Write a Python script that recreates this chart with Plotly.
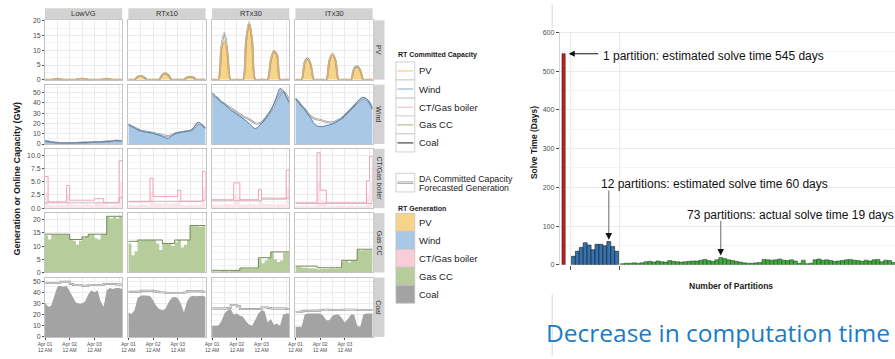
import plotly.graph_objects as go

# ---------------------------------------------------------------- data
HOURS = [0, 3, 6, 9, 12, 15, 18, 21, 24, 27, 30, 33, 36, 39, 42, 45,
         48, 51, 54, 57, 60, 63, 66, 69, 72, 75]
SCENARIOS = ["LowVG", "RTx10", "RTx30", "ITx30"]
TECHS = ["PV", "Wind", "CT/Gas boiler", "Gas CC", "Coal"]
DAY_TICKS = [0, 24, 48]
DAY_LABELS = ["Apr 01<br>12 AM", "Apr 02<br>12 AM", "Apr 03<br>12 AM"]
HALF_DAY_GRID = [12, 36, 60, 72]

PV_GEN = {
    "LowVG": [0, 0, 0, 0.2, 0.3, 0.2, 0, 0, 0, 0, 0, 0.3, 0.4, 0.3, 0, 0,
              0, 0, 0, 0.2, 0.3, 0.2, 0, 0, 0, 0],
    "RTx10": [0, 0, 0, 0.9, 1.3, 0.9, 0, 0, 0, 0, 0, 1.6, 2.2, 1.6, 0, 0,
              0, 0, 0, 0.7, 1.0, 0.8, 0, 0, 0, 0],
    "RTx30": [0, 0, 0, 10, 13, 8, 0, 0, 0, 0, 0, 13, 19, 13, 0, 0,
              0, 0, 0, 7, 10, 8.5, 0, 0, 0, 0],
    "ITx30": [0, 0, 0, 5.5, 7, 5, 0, 0, 0, 0, 0, 6.5, 8.5, 6.5, 0, 0,
              0, 0, 0, 3.5, 4.5, 3.5, 0, 0, 0, 0],
}
PV_DA = {
    "LowVG": [0, 0, 0, 0.2, 0.3, 0.2, 0, 0, 0, 0, 0, 0.3, 0.35, 0.3, 0, 0,
              0, 0, 0, 0.2, 0.3, 0.2, 0, 0, 0, 0],
    "RTx10": [0, 0, 0, 1.0, 1.3, 0.9, 0, 0, 0, 0, 0, 1.7, 2.2, 1.5, 0, 0,
              0, 0, 0, 0.8, 1.0, 0.8, 0, 0, 0, 0],
    "RTx30": [0, 0, 0, 11, 16, 9, 0, 0, 0, 0, 0, 13, 19.5, 13, 0, 0,
              0, 0, 0, 6.5, 9.5, 8.5, 0, 0, 0, 0],
    "ITx30": [0, 0, 0, 6, 7.2, 5, 0, 0, 0, 0, 0, 6.5, 8.8, 6.5, 0, 0,
              0, 0, 0, 3.8, 4.5, 3.2, 0, 0, 0, 0],
}
WIND_GEN = {
    "LowVG": [3, 2.5, 2, 1.5, 1.2, 1, 1, 1, 1, 1, 1.2, 1.2, 1.5, 1.5, 1.5, 1.8,
              2, 2, 2, 2.2, 2.5, 2.5, 3, 3.5, 3, 2.8],
    "RTx10": [19, 17.5, 16, 14, 13, 12, 11.5, 11, 10.5, 9.5, 8.5, 7.5, 6, 5.5, 8, 10,
              11, 11.5, 12, 12.5, 13, 15, 20, 21, 18, 15.5],
    "RTx30": [50, 47, 44, 41, 39, 36, 33, 31, 29, 27, 25, 22.5, 20, 17, 15, 17,
              20, 24, 28, 33, 39, 47, 54, 52, 46, 40],
    "ITx30": [44, 41, 37, 34, 29, 25, 20, 17.5, 17, 17, 18, 18.5, 19.5, 21, 23, 25,
              28, 31, 34, 37, 41, 44, 45.5, 44, 40, 34],
}
WIND_DA = {
    "LowVG": [3, 2.5, 2, 1.6, 1.3, 1.1, 1, 1, 1, 1, 1.1, 1.2, 1.4, 1.5, 1.6, 1.8,
              2, 2, 2.1, 2.2, 2.4, 2.6, 3, 3.3, 3, 2.8],
    "RTx10": [18.5, 17.5, 16, 14.5, 13, 12.5, 12, 11.5, 11, 10, 9.5, 8.5, 8, 7.5, 8.5, 10,
              11, 11.5, 12, 12.5, 13, 14.5, 18, 20, 18, 15.5],
    "RTx30": [48, 46, 44, 41, 39, 37, 35, 33, 31, 29, 27, 25.5, 24, 22, 20, 20,
              21, 24, 28, 32, 37, 43, 48, 51, 48, 42],
    "ITx30": [44, 41, 37, 34, 30, 27, 25, 24, 23.5, 22.5, 21.5, 21, 21, 22, 23.5, 25,
              28, 31, 34, 37, 40, 42.5, 44, 43, 40, 34],
}
CT_RTC = {
    "LowVG": [6, 1.2, 1.2, 1.2, 1.2, 1.2, 1.2, 4.3, 1.5, 1.5, 1.5, 1.5, 1.5, 1.5, 1.5, 1.5,
              1.8, 1.8, 1.8, 1.0, 1.0, 1.0, 1.0, 1.0, 9.0, 9.0],
    "RTx10": [1.2, 1.2, 1.2, 1.2, 1.2, 1.2, 1.2, 5.7, 2.2, 2.2, 2.2, 2.2, 2.2, 2.2, 2.2, 2.2,
              3.4, 1.3, 1.3, 1.3, 1.3, 1.3, 1.3, 1.3, 7.0, 1.5],
    "RTx30": [1.6, 1.6, 1.6, 1.6, 1.6, 1.6, 1.6, 4.8, 4.8, 1.6, 1.6, 1.6, 1.6, 1.6, 1.6, 3.5,
              1.7, 1.7, 1.7, 1.7, 1.7, 1.7, 1.7, 1.7, 7.2, 1.8],
    "ITx30": [1.0, 1.0, 1.0, 1.0, 1.0, 1.0, 1.0, 10.5, 3.4, 3.4, 1.0, 1.0, 1.0, 1.0, 1.0, 1.0,
              1.0, 1.0, 1.0, 1.0, 1.0, 1.0, 1.0, 5.2, 9.8, 1.2],
}
CT_DA = {
    "LowVG": [1.0, 1.0, 1.0, 1.0, 1.0, 1.0, 1.0, 1.0, 1.0, 1.0, 1.0, 1.0, 1.0, 1.0, 1.0, 1.0,
              1.0, 1.0, 1.0, 1.0, 1.0, 1.0, 1.0, 1.0, 2.0, 2.0],
    "RTx10": [1.3, 1.3, 1.3, 1.3, 1.3, 1.3, 1.3, 1.3, 1.3, 1.3, 1.3, 1.3, 1.3, 1.3, 1.3, 1.3,
              1.3, 1.3, 1.3, 1.3, 1.3, 1.3, 1.3, 1.3, 1.5, 1.5],
    "RTx30": [1.4, 1.4, 1.4, 1.4, 1.4, 1.4, 1.4, 1.4, 1.4, 1.4, 1.4, 1.4, 1.4, 1.4, 1.4, 1.4,
              1.9, 1.9, 1.9, 1.9, 1.9, 1.9, 1.9, 1.9, 1.9, 1.9],
    "ITx30": [0.9, 0.9, 0.9, 0.9, 0.9, 0.9, 0.9, 0.9, 0.9, 0.9, 0.9, 0.9, 0.9, 0.9, 0.9, 0.9,
              0.9, 0.9, 0.9, 0.9, 0.9, 0.9, 0.9, 0.9, 0.9, 0.9],
}
CT_GEN = {
    "LowVG": [3.0, 0.6, 0.5, 0.5, 0.6, 0.7, 0.6, 2.5, 0.8, 0.7, 0.6, 0.6, 0.7, 0.8, 0.7, 0.6,
              0.9, 1.0, 0.9, 0.6, 0.5, 0.5, 0.6, 0.7, 5.0, 3.0],
    "RTx10": [0.6, 0.5, 0.5, 0.6, 0.7, 0.6, 0.5, 3.0, 1.0, 0.9, 0.8, 0.9, 1.0, 0.8, 0.9, 1.0,
              1.5, 0.6, 0.5, 0.6, 0.6, 0.5, 0.6, 0.7, 4.0, 0.8],
    "RTx30": [0.7, 0.6, 0.6, 0.7, 0.8, 0.7, 0.6, 2.5, 2.0, 0.7, 0.6, 0.7, 0.8, 0.7, 0.6, 1.5,
              0.8, 0.7, 0.8, 0.8, 0.7, 0.8, 0.8, 0.7, 4.0, 0.9],
    "ITx30": [0.4, 0.4, 0.5, 0.5, 0.4, 0.4, 0.5, 5.0, 1.5, 1.2, 0.5, 0.4, 0.4, 0.5, 0.5, 0.4,
              0.4, 0.5, 0.5, 0.4, 0.4, 0.5, 0.5, 2.5, 5.0, 0.6],
}
GAS_GEN = {
    "LowVG": [14, 12.5, 14.3, 14.3, 14.3, 14.3, 14.3, 14.3, 12.5, 12, 10.5, 12, 13.2, 13.5, 14.5, 14.5,
              13, 12.5, 14.5, 14.5, 21, 20.5, 21, 20.5, 21, 21],
    "RTx10": [11, 6.5, 8, 12, 12.2, 12.2, 12.2, 12.2, 12.2, 11, 8.5, 11, 11, 11, 10, 11.5,
              12.3, 9.5, 10.5, 12.3, 17.5, 17.5, 17.5, 17.2, 17.5, 17.3],
    "RTx30": [0.5, 0.5, 0.5, 0.6, 0.6, 0.5, 0.6, 0.7, 0.7, 1.5, 1.5, 1.5, 1.4, 1.5, 1.5, 5.2,
              3.5, 4.5, 5.5, 7.7, 5, 4, 4.5, 7.5, 7.7, 7.5],
    "ITx30": [2.2, 2.2, 1.8, 1.8, 1.6, 1.6, 1.5, 1.2, 1.3, 1.4, 1.3, 1.5, 1.4, 1.5, 1.5, 4.2,
              4.4, 3.8, 4.4, 4.4, 8.5, 8.3, 8.5, 8.4, 8.5, 8.5],
}
GAS_RTC = {
    "LowVG": [14.5, 14.5, 14.5, 14.5, 14.5, 14.5, 14.5, 14.5, 12.5, 12.5, 12.5, 12.5, 13.5, 13.5, 14.5, 14.5,
              14.5, 14.5, 14.5, 14.5, 21.3, 21.3, 21.3, 21.3, 21.3, 21.3],
    "RTx10": [11.8, 11.8, 11.8, 12.3, 12.3, 12.3, 12.3, 12.3, 12.3, 12.3, 12.3, 11, 11, 11, 11, 12.3,
              12.3, 12.3, 12.3, 12.3, 17.8, 17.8, 17.8, 17.8, 17.8, 17.8],
    "RTx30": [0.8, 0.8, 0.8, 0.8, 0.8, 0.8, 0.8, 0.8, 0.8, 1.7, 1.7, 1.7, 1.7, 1.7, 1.7, 5.6,
              5.6, 5.6, 5.6, 7.8, 7.8, 7.8, 7.8, 7.8, 7.8, 7.8],
    "ITx30": [2.4, 2.4, 2.4, 2.4, 2.4, 2.4, 2.4, 1.8, 1.8, 1.8, 1.8, 1.8, 1.8, 1.8, 1.8, 4.6,
              4.6, 4.6, 4.6, 4.6, 8.8, 8.8, 8.8, 8.8, 8.8, 8.8],
}
COAL_GEN = {
    "LowVG": [31, 27, 28, 36, 45, 46, 45, 46, 41, 35, 31, 30, 30, 32, 38, 42,
              40, 42, 32, 27, 42, 44, 43, 44, 44, 43],
    "RTx10": [22, 20.5, 24, 35, 37, 37.5, 37, 37, 33, 28, 25, 24, 25, 31, 35, 36,
              35, 30, 22, 32, 36, 37, 36.5, 37, 37, 36],
    "RTx30": [10, 10, 10, 14, 21, 24, 25, 20, 21, 19, 18, 14, 11, 10, 16, 21,
              24, 23, 13, 16, 11, 12, 10, 20, 21, 21],
    "ITx30": [9, 9, 9, 20, 21, 21, 21, 21, 21, 19, 15, 15, 19, 20, 20, 17,
              13, 16, 20, 20, 10, 9, 20, 21, 21, 21],
}
COAL_DA = {
    "LowVG": [48.5, 48.5, 48.5, 48.5, 48.5, 49.5, 49.5, 49.5, 47.5, 46.5, 46.5, 46.5, 46, 46, 46.5, 46.5,
              46.5, 46.5, 46.5, 47.5, 47.5, 47.5, 47.5, 47, 47, 47],
    "RTx10": [40.5, 40.5, 40.5, 40.5, 41.5, 41.5, 41.5, 41.5, 41, 40.5, 40, 40, 39.5, 39.5, 39.5, 39.5,
              39.5, 39.5, 40, 41, 41, 41, 41, 41, 40.5, 40.5],
    "RTx30": [25.5, 25.5, 25.5, 25.5, 25.5, 26, 28.5, 28.5, 27.5, 25, 25, 25, 25, 25, 25, 25,
              26.5, 26.5, 26, 25.5, 25.5, 25.5, 25.5, 25.5, 25, 25],
    "ITx30": [22.5, 22.5, 23, 23.5, 23.5, 23.5, 23.5, 23.5, 24, 24.5, 24.5, 24, 24, 24, 24, 24.5,
              24.5, 24.5, 24.5, 24.5, 24, 24, 24, 24, 24, 24],
}

# solve time per partition run (days)
ONE_PARTITION_DAYS = [545]
TWELVE_PARTITION_DAYS = [22, 35, 45, 57, 51, 39, 53, 53, 49, 60, 47, 35]
SEVENTY_THREE_PARTITION_DAYS = [
    3, 4, 4, 5, 4, 5, 8, 9, 7, 10, 8, 7, 11, 9, 8, 7, 8, 9, 10, 10, 12, 14, 11, 9, 13,
    19, 16, 13, 11, 9, 7, 5, 4, 4, 5, 6, 14, 13, 12, 13, 15, 12, 11, 13, 10, 4, 12, 3,
    4, 13, 15, 12, 13, 11, 9, 10, 11, 13, 14, 12, 11, 9, 12, 10, 13, 14, 8, 12, 11, 6,
    5, 4, 3]
Y_SOLVE_TICKS = [0, 100, 200, 300, 400, 500, 600]

# ---------------------------------------------------------------- styling
W, H = 895, 359
FONT = "Liberation Sans, Arial, sans-serif"
GRID = "#EBEBEB"
GRID_MINOR = "#F4F4F4"
BORDER = "#C4C4C4"
STRIP = "#D2D2D2"
TICK_COLOR = "#4D4D4D"

PV_FILL, PV_LINE = "#F8D48A", "#E9A536"
WIND_FILL, WIND_LINE = "#A8C8E6", "#4C7DB6"
CT_FILL, CT_LINE, CT_DA_LINE = "#FCE6EA", "#F2A2B4", "#C7A3AC"
GAS_FILL, GAS_LINE = "#B6CC9A", "#6F8750"
COAL_FILL = "#A3A3A3"
DA_OUTER = "#8A8A8A"

COL_LEFT = [38.3, 122.3, 206.7, 290.7]
PANEL_W = 77.8
ROW_TOP = [16.7, 82.3, 147.7, 213.3, 279.0]
PANEL_H = 60.5

Y_SPEC = [
    dict(top=20.2, ticks=[0, 5, 10, 15, 20], labels=["0", "5", "10", "15", "20"],
         minor=[2.5, 7.5, 12.5, 17.5]),
    dict(top=57.7, ticks=[0, 10, 20, 30, 40, 50], labels=["0", "10", "20", "30", "40", "50"],
         minor=[5, 15, 25, 35, 45, 55]),
    dict(top=11.25, ticks=[0, 2.5, 5, 7.5, 10], labels=["0.0", "2.5", "5.0", "7.5", "10.0"],
         minor=[1.25, 3.75, 6.25, 8.75]),
    dict(top=22.5, ticks=[0, 5, 10, 15, 20], labels=["0", "5", "10", "15", "20"],
         minor=[2.5, 7.5, 12.5, 17.5]),
    dict(top=53.3, ticks=[0, 10, 20, 30, 40, 50], labels=["0", "10", "20", "30", "40", "50"],
         minor=[5, 15, 25, 35, 45]),
]


def fx(px):
    return px / W


def fy(py):
    return 1 - py / H


def ids(k):
    return ("x" if k == 1 else f"x{k}", "y" if k == 1 else f"y{k}")


def keys(k):
    return ("xaxis" if k == 1 else f"xaxis{k}", "yaxis" if k == 1 else f"yaxis{k}")


fig = go.Figure()
shapes, annotations = [], []
layout = dict(width=W, height=H, margin=dict(l=0, r=0, t=0, b=0),
              paper_bgcolor="white", plot_bgcolor="white", showlegend=False,
              hovermode=False, font=dict(family=FONT, color="#1A1A1A"))


def text_at(text, px, py, size, color="#1A1A1A", xanchor="center", angle=0,
            family=FONT):
    annotations.append(dict(text=text, xref="paper", yref="paper", x=fx(px), y=fy(py),
                            xanchor=xanchor, yanchor="middle", showarrow=False,
                            textangle=angle,
                            font=dict(size=size, color=color, family=family)))


def area(k, y, fill, shape):
    xid, yid = ids(k)
    fig.add_trace(go.Scatter(x=HOURS, y=y, xaxis=xid, yaxis=yid, mode="lines",
                             fill="tozeroy", fillcolor=fill,
                             line=dict(width=0, shape=shape, smoothing=0.9,
                                       color=fill)))


def line(k, y, color, width, shape):
    xid, yid = ids(k)
    fig.add_trace(go.Scatter(x=HOURS, y=y, xaxis=xid, yaxis=yid, mode="lines",
                             line=dict(color=color, width=width, shape=shape,
                                       smoothing=0.9)))


def da_line(k, y, shape):
    line(k, y, DA_OUTER, 1.9, shape)
    line(k, y, "white", 0.7, shape)


# ---------------------------------------------------------------- facet grid
for r, tech in enumerate(TECHS):
    for c, sc in enumerate(SCENARIOS):
        k = r * 4 + c + 1
        xid, yid = ids(k)
        xkey, ykey = keys(k)
        x0, y0 = COL_LEFT[c], ROW_TOP[r]
        bottom = r == len(TECHS) - 1
        left = c == 0
        spec = Y_SPEC[r]
        layout[xkey] = dict(
            domain=[fx(x0), fx(x0 + PANEL_W)], anchor=yid, range=[0, 75],
            tickmode="array", tickvals=DAY_TICKS, ticktext=DAY_LABELS,
            showticklabels=bottom, ticks="outside" if bottom else "",
            ticklen=2, tickwidth=0.7, tickcolor=TICK_COLOR,
            tickfont=dict(size=5, color=TICK_COLOR),
            showgrid=True, gridcolor=GRID, gridwidth=0.7,
            minor=dict(tickmode="array", tickvals=HALF_DAY_GRID, showgrid=True,
                       gridcolor=GRID, gridwidth=0.5, ticks=""),
            showline=True, mirror=True, linecolor=BORDER, linewidth=0.8,
            zeroline=False, fixedrange=True)
        layout[ykey] = dict(
            domain=[fy(y0 + PANEL_H), fy(y0)], anchor=xid, range=[0, spec["top"]],
            tickmode="array", tickvals=spec["ticks"], ticktext=spec["labels"],
            showticklabels=left, ticks="outside" if left else "",
            ticklen=2, tickwidth=0.7, tickcolor=TICK_COLOR,
            tickfont=dict(size=7, color=TICK_COLOR),
            showgrid=True, gridcolor=GRID, gridwidth=0.7,
            minor=dict(tickmode="array", tickvals=spec["minor"], showgrid=True,
                       gridcolor=GRID_MINOR, gridwidth=0.5, ticks=""),
            showline=True, mirror=True, linecolor=BORDER, linewidth=0.8,
            zeroline=False, fixedrange=True)

        if tech == "PV":
            area(k, PV_GEN[sc], PV_FILL, "spline")
            da_line(k, PV_DA[sc], "spline")
            line(k, PV_GEN[sc], PV_LINE, 0.9, "spline")
        elif tech == "Wind":
            area(k, WIND_GEN[sc], WIND_FILL, "spline")
            da_line(k, WIND_DA[sc], "spline")
            line(k, WIND_GEN[sc], WIND_LINE, 1.0, "spline")
        elif tech == "CT/Gas boiler":
            area(k, CT_GEN[sc], CT_FILL, "hv")
            line(k, CT_DA[sc], CT_DA_LINE, 0.8, "hv")
            line(k, CT_RTC[sc], CT_LINE, 1.0, "hv")
        elif tech == "Gas CC":
            area(k, GAS_GEN[sc], GAS_FILL, "hv")
            line(k, GAS_RTC[sc], GAS_LINE, 1.0, "hv")
        else:
            area(k, COAL_GEN[sc], COAL_FILL, "linear")
            da_line(k, COAL_DA[sc], "hv")

# column strips
for c, sc in enumerate(SCENARIOS):
    x0 = COL_LEFT[c]
    shapes.append(dict(type="rect", xref="paper", yref="paper",
                       x0=fx(x0), x1=fx(x0 + PANEL_W), y0=fy(15.7), y1=fy(4.3),
                       fillcolor=STRIP, line=dict(width=0)))
    text_at(sc, x0 + PANEL_W / 2, 10, 7.5, color="#333333")
# row strips
for r, tech in enumerate(TECHS):
    y0 = ROW_TOP[r]
    shapes.append(dict(type="rect", xref="paper", yref="paper",
                       x0=fx(369.3), x1=fx(380.5), y0=fy(y0 + PANEL_H), y1=fy(y0),
                       fillcolor=STRIP, line=dict(width=0)))
    text_at(tech, 375, y0 + PANEL_H / 2, 7, color="#333333", angle=90)

text_at("<b>Generation or Online Capacity (GW)</b>", 10, 178, 9, angle=-90)

# ---------------------------------------------------------------- legend
KEY_X0, KEY_X1, LABEL_X = 392, 411, 413.5
RTC_KEY_COLORS = ["#F3C35A", "#7FA7D3", "#F6B9C5", "#A8B47A", "#222222"]
GEN_KEY_COLORS = [PV_FILL, WIND_FILL, "#F9CDD6", GAS_FILL, COAL_FILL]
RTC_ROWS = [68.3, 86.7, 105.3, 123.3, 141.7]
GEN_ROWS = [222.7, 241.0, 259.3, 277.7, 296.0]
KEY_H = 18.4

text_at("<b>RT Committed Capacity</b>", KEY_X0, 52.3, 7, xanchor="left")
for name, col, yc in zip(TECHS, RTC_KEY_COLORS, RTC_ROWS):
    shapes.append(dict(type="rect", xref="paper", yref="paper",
                       x0=fx(KEY_X0), x1=fx(KEY_X1), y0=fy(yc + KEY_H / 2),
                       y1=fy(yc - KEY_H / 2), fillcolor="white",
                       line=dict(color=BORDER, width=0.8)))
    shapes.append(dict(type="line", xref="paper", yref="paper",
                       x0=fx(KEY_X0 + 1.5), x1=fx(KEY_X1 - 1.5), y0=fy(yc), y1=fy(yc),
                       line=dict(color=col, width=1.0)))
    text_at(name, LABEL_X, yc, 9.5, xanchor="left")

shapes.append(dict(type="rect", xref="paper", yref="paper",
                   x0=fx(KEY_X0), x1=fx(KEY_X1), y0=fy(191.7), y1=fy(172.7),
                   fillcolor="white", line=dict(color=BORDER, width=0.8)))
shapes.append(dict(type="line", xref="paper", yref="paper",
                   x0=fx(KEY_X0 + 1.5), x1=fx(KEY_X1 - 1.5), y0=fy(182.2), y1=fy(182.2),
                   line=dict(color=DA_OUTER, width=2.2)))
shapes.append(dict(type="line", xref="paper", yref="paper",
                   x0=fx(KEY_X0 + 1.5), x1=fx(KEY_X1 - 1.5), y0=fy(182.2), y1=fy(182.2),
                   line=dict(color="white", width=0.8)))
text_at("DA Committed Capacity", LABEL_X, 178.0, 8.8, xanchor="left")
text_at("Forecasted Generation", LABEL_X, 188.0, 8.8, xanchor="left")

text_at("<b>RT Generation</b>", KEY_X0, 208.3, 7, xanchor="left")
for name, col, yc in zip(TECHS, GEN_KEY_COLORS, GEN_ROWS):
    shapes.append(dict(type="rect", xref="paper", yref="paper",
                       x0=fx(KEY_X0), x1=fx(KEY_X1), y0=fy(yc + KEY_H / 2),
                       y1=fy(yc - KEY_H / 2), fillcolor=col,
                       line=dict(color=BORDER, width=0.8)))
    text_at(name, LABEL_X, yc, 9.5, xanchor="left")

# ---------------------------------------------------------------- solve time chart
BAR_PX = 3.96                      # pixels per partition slot
PLOT_LEFT, PLOT_TOP, PLOT_BOTTOM = 557, 29, 266
x_span = (W - PLOT_LEFT) / BAR_PX

one_x = [1 + i for i in range(len(ONE_PARTITION_DAYS))]
twelve_x = [3.5 + i for i in range(len(TWELVE_PARTITION_DAYS))]
seventy_x = [16 + i for i in range(len(SEVENTY_THREE_PARTITION_DAYS))]

fig.add_trace(go.Bar(x=one_x, y=ONE_PARTITION_DAYS, width=0.8, xaxis="x21", yaxis="y21",
                     marker=dict(color="#D0191B", line=dict(color="#222222", width=0.6))))
fig.add_trace(go.Bar(x=twelve_x, y=TWELVE_PARTITION_DAYS, width=1.0, xaxis="x21", yaxis="y21",
                     marker=dict(color="#3572B0", line=dict(color="#1A1A1A", width=0.6))))
fig.add_trace(go.Bar(x=seventy_x, y=SEVENTY_THREE_PARTITION_DAYS, width=1.0,
                     xaxis="x21", yaxis="y21",
                     marker=dict(color="#3DAA3A", line=dict(color="#1F3A1F", width=0.5))))

layout["xaxis21"] = dict(domain=[fx(PLOT_LEFT), 1.0], anchor="y21", range=[0, x_span],
                         tickmode="array", tickvals=[2.75, 15.2], ticktext=["", ""],
                         ticks="outside", ticklen=4, tickwidth=0.8, tickcolor=TICK_COLOR,
                         showgrid=True, gridcolor=GRID, gridwidth=0.8,
                         showline=False, zeroline=False, fixedrange=True)
layout["yaxis21"] = dict(domain=[fy(PLOT_BOTTOM), fy(PLOT_TOP)], anchor="x21",
                         range=[0, 600], tickmode="array", tickvals=Y_SOLVE_TICKS,
                         ticks="outside", ticklen=3, tickwidth=0.8, tickcolor=TICK_COLOR,
                         tickfont=dict(size=7, color=TICK_COLOR),
                         showgrid=True, gridcolor=GRID, gridwidth=0.8,
                         minor=dict(dtick=50, showgrid=True, gridcolor=GRID_MINOR,
                                    gridwidth=0.5, ticks=""),
                         showline=True, linecolor="#D6D6D6", linewidth=0.8,
                         zeroline=False, fixedrange=True)
shapes.append(dict(type="line", xref="x21", yref="y21", x0=0, x1=x_span, y0=600, y1=600,
                   line=dict(color="#C8C8C8", width=0.8)))

ANN_FONT = dict(size=12, color="#111111", family=FONT)
# 1 partition
one_top = ONE_PARTITION_DAYS[0]
annotations.append(dict(text="", xref="x21", yref="y21", axref="x21", ayref="y21",
                        x=one_x[0] + 1.3, y=one_top, ax=10.2, ay=one_top,
                        showarrow=True, arrowhead=2, arrowsize=1.1, arrowwidth=1.1,
                        arrowcolor="#111111"))
annotations.append(dict(text="1 partition: estimated solve time 545 days",
                        xref="x21", yref="y21", x=10.6, y=one_top - 5,
                        xanchor="left", yanchor="middle", showarrow=False, font=ANN_FONT))

# 12 partitions
i12 = TWELVE_PARTITION_DAYS.index(max(TWELVE_PARTITION_DAYS))
x12, v12 = twelve_x[i12], TWELVE_PARTITION_DAYS[i12]
annotations.append(dict(text="12 partitions: estimated solve time 60 days",
                        xref="x21", yref="y21", x=10.1, y=208,
                        xanchor="left", yanchor="middle", showarrow=False, font=ANN_FONT))
shapes.append(dict(type="line", xref="x21", yref="y21", x0=x12, x1=x12,
                   y0=192, y1=v12 + 20, line=dict(color="#8C8C8C", width=1.3)))
annotations.append(dict(text="", xref="x21", yref="y21", x=x12, y=v12 + 5,
                        ax=0, ay=-8, showarrow=True, arrowhead=2, arrowsize=1.1,
                        arrowwidth=1.2, arrowcolor="#111111"))

# 73 partitions
i73 = SEVENTY_THREE_PARTITION_DAYS.index(max(SEVENTY_THREE_PARTITION_DAYS))
x73, v73 = seventy_x[i73], SEVENTY_THREE_PARTITION_DAYS[i73]
annotations.append(dict(text="73 partitions: actual solve time 19 days",
                        xref="x21", yref="y21", x=31.8, y=128,
                        xanchor="left", yanchor="middle", showarrow=False, font=ANN_FONT))
shapes.append(dict(type="line", xref="x21", yref="y21", x0=x73, x1=x73,
                   y0=113, y1=v73 + 20, line=dict(color="#8C8C8C", width=1.3)))
annotations.append(dict(text="", xref="x21", yref="y21", x=x73, y=v73 + 5,
                        ax=0, ay=-8, showarrow=True, arrowhead=2, arrowsize=1.1,
                        arrowwidth=1.2, arrowcolor="#111111"))

text_at("<b>Solve Time (Days)</b>", 531, 141, 8.5, angle=-90)
text_at("<b>Number of Partitions</b>", 730, 288, 8.5)

# slide caption and divider
text_at("Decrease in computation time", 541, 335, 24.5, color="#1B7CC4",
        xanchor="left", family="Open Sans, sans-serif")
shapes.append(dict(type="line", xref="paper", yref="paper", x0=fx(549.5), x1=fx(549.5),
                   y0=fy(25), y1=1, line=dict(color="#D9D9D9", width=1)))
shapes.append(dict(type="line", xref="paper", yref="paper", x0=fx(549.5), x1=fx(549.5),
                   y0=0, y1=fy(296), line=dict(color="#D9D9D9", width=1)))

layout["shapes"] = shapes
layout["annotations"] = annotations
fig.update_layout(**layout)
fig.write_html("out.html")
